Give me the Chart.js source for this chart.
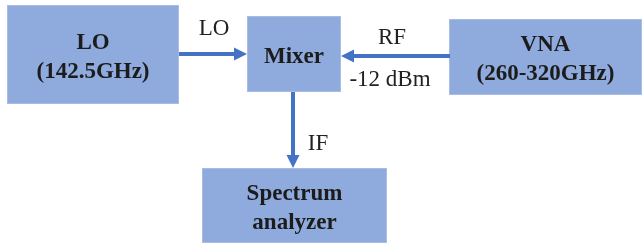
<!DOCTYPE html>
<html>
<head>
<meta charset="utf-8">
<script src="https://cdn.jsdelivr.net/npm/chart.js@4"></script>
<style>
  html, body { margin: 0; padding: 0; background: #ffffff; }
  #wrap { width: 642px; height: 246px; position: relative; }
</style>
</head>
<body>
<div id="wrap"><canvas id="diagram"></canvas></div>
<script>
// Block diagram: LO + VNA into mixer, IF out to spectrum analyzer
// Coordinates are in diagram units (0..642 x, 0..246 y), mapped via the chart scales

// --- Blocks ---
const blockLabels = [['LO', '(142.5GHz)'], ['Mixer'], ['VNA', '(260-320GHz)'], ['Spectrum', 'analyzer']];
const blockLeft   = [7, 247, 449, 202];
const blockRight  = [179, 341, 642, 387];
const blockTop    = [5, 16, 19, 168];
const blockBottom = [104, 92, 95, 243];

// --- Arrows (start -> tip) ---
const arrowFromX = [179, 450, 293];
const arrowFromY = [54, 56, 92];
const arrowToX   = [247, 341, 293];
const arrowToY   = [54, 56, 168];

// --- Arrow labels ---
const noteTexts = ['LO', 'RF', '-12 dBm', 'IF'];
const noteX     = [214, 392, 390, 318];
const noteY     = [28, 37, 79, 143];

const BOX_FILL = '#8faadc';
const ARROW_COLOR = '#4472c4';
const HEAD_LEN = 13;
const HEAD_HALF = 6.5;
const TEXT_NUDGE = 3; // middle baseline sits a little high for these glyphs

// shafts stop short of the tip so the head stays sharp
function shaftEnd(i) {
  const dx = arrowToX[i] - arrowFromX[i];
  const dy = arrowToY[i] - arrowFromY[i];
  const len = Math.hypot(dx, dy);
  return { x: arrowToX[i] - dx / len * (HEAD_LEN - 1), y: arrowToY[i] - dy / len * (HEAD_LEN - 1) };
}

const arrowDatasets = arrowFromX.map((_, i) => ({
  data: [{ x: arrowFromX[i], y: arrowFromY[i] }, shaftEnd(i)],
  showLine: true,
  borderColor: ARROW_COLOR,
  borderWidth: 4,
  pointRadius: 0,
}));

// Draw blocks beneath datasets, heads and text above
const diagramPlugin = {
  id: 'diagram',
  beforeDatasetsDraw(chart) {
    const { ctx, scales: { x, y } } = chart;
    ctx.save();
    for (let i = 0; i < blockLabels.length; i++) {
      const l = x.getPixelForValue(blockLeft[i]);
      const r = x.getPixelForValue(blockRight[i]);
      const t = y.getPixelForValue(blockTop[i]);
      const b = y.getPixelForValue(blockBottom[i]);
      ctx.fillStyle = BOX_FILL;
      ctx.fillRect(l, t, r - l, b - t);
      ctx.strokeStyle = '#a9bde3';
      ctx.lineWidth = 1;
      ctx.strokeRect(l + 0.5, t + 0.5, r - l - 1, b - t - 1);
    }
    ctx.restore();
  },
  afterDatasetsDraw(chart) {
    const { ctx, scales: { x, y } } = chart;
    ctx.save();

    // arrow heads
    ctx.fillStyle = ARROW_COLOR;
    for (let i = 0; i < arrowToX.length; i++) {
      const tx = x.getPixelForValue(arrowToX[i]);
      const ty = y.getPixelForValue(arrowToY[i]);
      const fx = x.getPixelForValue(arrowFromX[i]);
      const fy = y.getPixelForValue(arrowFromY[i]);
      const ang = Math.atan2(ty - fy, tx - fx);
      const bx = tx - HEAD_LEN * Math.cos(ang);
      const by = ty - HEAD_LEN * Math.sin(ang);
      ctx.beginPath();
      ctx.moveTo(tx, ty);
      ctx.lineTo(bx + HEAD_HALF * Math.sin(ang), by - HEAD_HALF * Math.cos(ang));
      ctx.lineTo(bx - HEAD_HALF * Math.sin(ang), by + HEAD_HALF * Math.cos(ang));
      ctx.closePath();
      ctx.fill();
    }

    // block text
    ctx.textAlign = 'center';
    ctx.textBaseline = 'middle';
    ctx.fillStyle = '#1c1c1c';
    ctx.font = 'bold 23px "Liberation Serif", "DejaVu Serif", serif';
    const lineGap = 29;
    for (let i = 0; i < blockLabels.length; i++) {
      const cx = x.getPixelForValue((blockLeft[i] + blockRight[i]) / 2);
      const cy = y.getPixelForValue((blockTop[i] + blockBottom[i]) / 2) + TEXT_NUDGE;
      const lines = blockLabels[i];
      const start = cy - (lines.length - 1) * lineGap / 2;
      lines.forEach((txt, k) => ctx.fillText(txt, cx, start + k * lineGap));
    }

    // arrow labels
    ctx.font = '23px "Liberation Serif", "DejaVu Serif", serif';
    ctx.fillStyle = '#222222';
    for (let i = 0; i < noteTexts.length; i++) {
      ctx.fillText(noteTexts[i], x.getPixelForValue(noteX[i]), y.getPixelForValue(noteY[i]) + 1);
    }
    ctx.restore();
  },
};

new Chart(document.getElementById('diagram'), {
  type: 'scatter',
  data: { datasets: arrowDatasets },
  options: {
    responsive: true,
    maintainAspectRatio: false,
    animation: false,
    layout: { padding: 0 },
    plugins: {
      legend: { display: false },
      tooltip: { enabled: false },
    },
    scales: {
      x: { type: 'linear', min: 0, max: 642, display: false },
      y: { type: 'linear', min: 0, max: 246, reverse: true, display: false },
    },
  },
  plugins: [diagramPlugin],
});
</script>
</body>
</html>
